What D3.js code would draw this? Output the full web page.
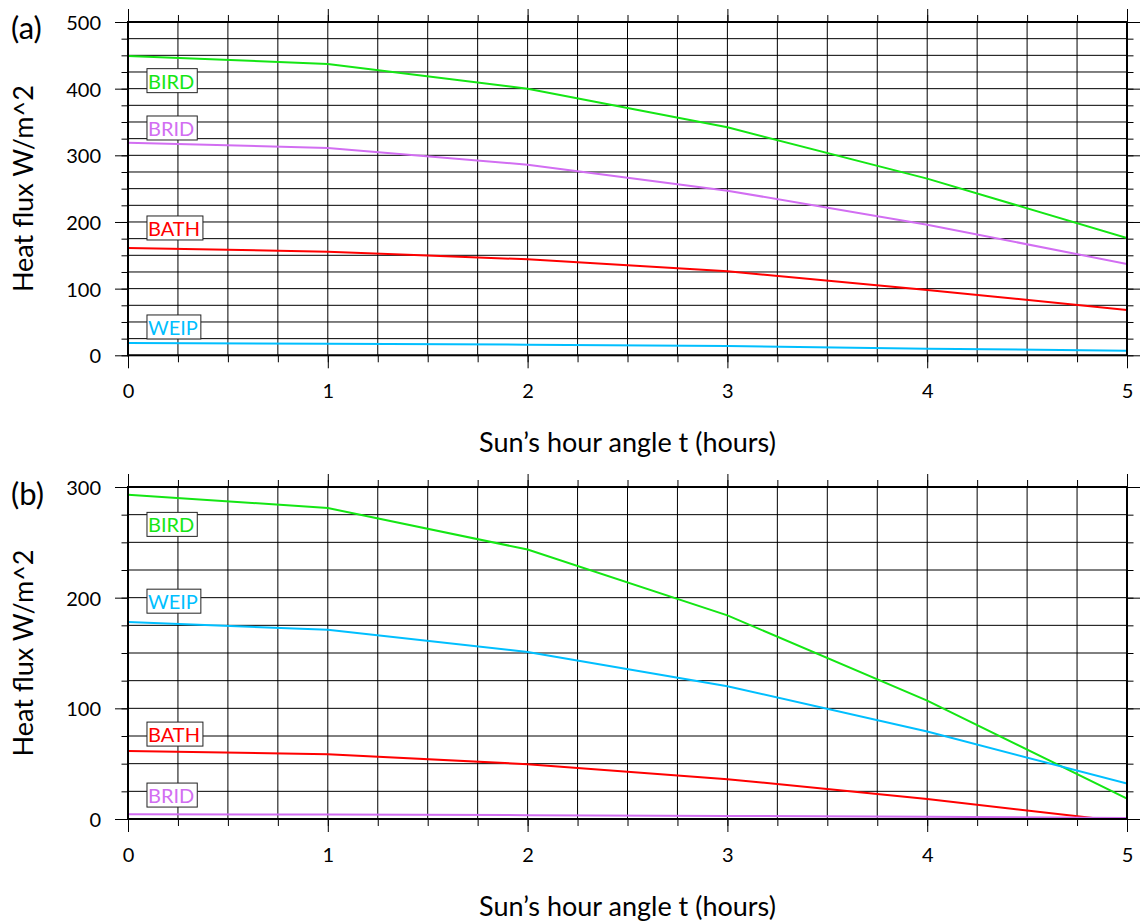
<!DOCTYPE html>
<html>
<head>
<meta charset="utf-8">
<script src="https://cdn.jsdelivr.net/npm/d3@7"></script>
<style>
  html, body { margin: 0; padding: 0; background: #fff; }
  svg { display: block; font-family: Lato, "Open Sans", sans-serif; }
</style>
</head>
<body>
<svg id="chart" width="1142" height="921"></svg>
<script>
// Sun's hour angle (hours)
const hours = [0, 1, 2, 3, 4, 5];

// Panel (a) heat flux, W/m^2
const birdA = [449, 437, 400, 342, 265, 176];
const bridA = [319, 311, 286, 247, 196, 137];
const bathA = [161, 155.5, 144, 126, 98, 68];
const weipA = [18.5, 17.5, 16, 14, 10, 7];

// Panel (b) heat flux, W/m^2
const birdB = [293, 281, 243.5, 184, 107, 18.5];
const weipB = [178, 171, 151, 120, 79, 32];
const bathB = [61.5, 58.5, 49.5, 36, 18, -2.6];
const bridB = [4.2, 4.0, 3.5, 2.8, 2.0, 1.0];

// Axis ticks
const xMajorTicks = [0, 1, 2, 3, 4, 5];
const yTicksA = [0, 100, 200, 300, 400, 500];
const yTicksB = [0, 100, 200, 300];

const colors = { BIRD: "#14e614", BRID: "#d26ef2", BATH: "#ff0000", WEIP: "#00bfff" };

const svg = d3.select("#chart");
const x = d3.scaleLinear().domain([0, 5]).range([128, 1127]);

const panels = [
  {
    tag: "(a)", top: 22, bottom: 355.3, yMax: 500, yTicks: yTicksA, tagY: 39,
    series: [["BIRD", birdA], ["BRID", bridA], ["BATH", bathA], ["WEIP", weipA]],
    labels: [["BIRD", 400], ["BRID", 329], ["BATH", 179], ["WEIP", 30.5]]
  },
  {
    tag: "(b)", top: 487, bottom: 819, yMax: 300, yTicks: yTicksB, tagY: 505,
    series: [["BIRD", birdB], ["WEIP", weipB], ["BATH", bathB], ["BRID", bridB]],
    labels: [["BIRD", 259], ["WEIP", 189.6], ["BATH", 69.5], ["BRID", 14.4]]
  }
];

const xMinor = d3.range(0, 5.0001, 0.25);

panels.forEach((p, i) => {
  const y = d3.scaleLinear().domain([0, p.yMax]).range([p.bottom, p.top]);
  const yMinor = d3.range(0, p.yMax + 0.001, 25);
  const g = svg.append("g");
  const left = x.range()[0], right = x.range()[1];

  // grid
  g.append("g").selectAll("line").data(xMinor).join("line")
    .attr("x1", d => x(d)).attr("x2", d => x(d))
    .attr("y1", p.top).attr("y2", p.bottom)
    .attr("stroke", "#000").attr("stroke-width", 1);
  g.append("g").selectAll("line").data(yMinor).join("line")
    .attr("x1", left).attr("x2", right)
    .attr("y1", d => y(d)).attr("y2", d => y(d))
    .attr("stroke", "#000").attr("stroke-width", 1);

  // tick marks on all four sides (minor + major)
  const tickAxis = (gen, tx, ty) => {
    const a = g.append("g").attr("transform", `translate(${tx},${ty})`).call(gen);
    a.select(".domain").remove();
    a.selectAll("text").remove();
    a.selectAll("line").attr("stroke", "#000").attr("stroke-width", 1);
    return a;
  };
  tickAxis(d3.axisTop(x).tickValues(xMinor).tickSize(7).tickFormat(""), 0, p.top);
  tickAxis(d3.axisTop(x).tickValues(xMajorTicks).tickSize(13).tickFormat(""), 0, p.top);
  tickAxis(d3.axisBottom(x).tickValues(xMinor).tickSize(7).tickFormat(""), 0, p.bottom);
  tickAxis(d3.axisBottom(x).tickValues(xMajorTicks).tickSize(13).tickFormat(""), 0, p.bottom);
  tickAxis(d3.axisLeft(y).tickValues(yMinor).tickSize(6.5).tickFormat(""), left, 0);
  tickAxis(d3.axisLeft(y).tickValues(p.yTicks).tickSize(13).tickFormat(""), left, 0);
  tickAxis(d3.axisRight(y).tickValues(yMinor).tickSize(6.5).tickFormat(""), right, 0);
  tickAxis(d3.axisRight(y).tickValues(p.yTicks).tickSize(13).tickFormat(""), right, 0);

  // tick labels
  const xl = g.append("g").attr("transform", `translate(0,${p.bottom})`)
    .call(d3.axisBottom(x).tickValues(xMajorTicks).tickSize(0).tickPadding(29).tickFormat(d3.format("d")));
  xl.select(".domain").remove();
  xl.selectAll("text").attr("font-family", "Lato").attr("font-size", 20).attr("fill", "#000");

  const yl = g.append("g").attr("transform", `translate(${left},0)`)
    .call(d3.axisLeft(y).tickValues(p.yTicks).tickSize(0).tickPadding(27).tickFormat(d3.format("d")));
  yl.select(".domain").remove();
  yl.selectAll("text").attr("font-family", "Lato").attr("font-size", 20).attr("fill", "#000").attr("dy", "0.37em");

  // series
  const clipId = "clip" + i;
  svg.append("clipPath").attr("id", clipId).append("rect")
    .attr("x", left).attr("y", p.top).attr("width", right - left).attr("height", p.bottom - p.top);
  const line = d3.line().x(d => x(d[0])).y(d => y(d[1]));
  g.append("g").attr("clip-path", `url(#${clipId})`).selectAll("path").data(p.series).join("path")
    .attr("d", d => line(hours.map((h, k) => [h, d[1][k]])))
    .attr("fill", "none").attr("stroke", d => colors[d[0]]).attr("stroke-width", 2);

  // frame
  g.append("rect").attr("x", left).attr("y", p.top)
    .attr("width", right - left).attr("height", p.bottom - p.top)
    .attr("fill", "none").attr("stroke", "#000").attr("stroke-width", 2);

  // boxed series labels
  p.labels.forEach(([name, v]) => {
    const lg = g.append("g");
    const t = lg.append("text").attr("x", x(0.1)).attr("y", y(v))
      .attr("font-family", "Lato").attr("font-size", 20).attr("fill", colors[name]).text(name);
    const bb = t.node().getBBox();
    lg.insert("rect", "text").attr("x", bb.x - 1).attr("y", bb.y)
      .attr("width", bb.width + 4).attr("height", bb.height)
      .attr("fill", "#fff").attr("stroke", "#222").attr("stroke-width", 1);
  });

  // panel tag
  svg.append("text").attr("x", 11).attr("y", p.tagY).attr("font-size", 31).text(p.tag);

  // axis titles
  svg.append("text").attr("x", (left + right) / 2).attr("y", p.bottom + 97)
    .attr("text-anchor", "middle").attr("font-size", 27).text("Sun\u2019s hour angle t (hours)");
  svg.append("text")
    .attr("transform", `translate(33,${(p.top + p.bottom) / 2}) rotate(-90)`)
    .attr("text-anchor", "middle").attr("font-size", 27).text("Heat flux W/m^2");
});
</script>
</body>
</html>
